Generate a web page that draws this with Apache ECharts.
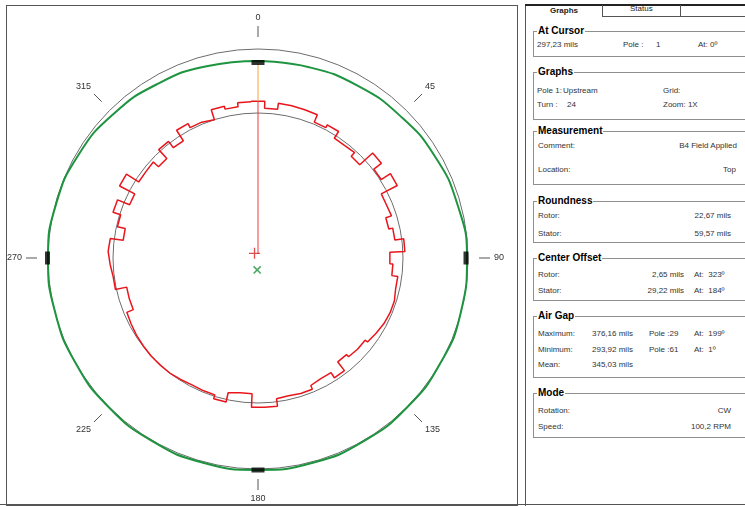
<!DOCTYPE html>
<html>
<head>
<meta charset="utf-8">
<script src="https://cdn.jsdelivr.net/npm/echarts@6/dist/echarts.min.js"></script>
<style>
  body { margin: 0; background: #fff; font-family: "Liberation Sans", Arial, sans-serif; }
  #wrap { position: relative; width: 745px; height: 506px; overflow: hidden; background: #fff; }
  #chart { position: absolute; left: 0; top: 0; width: 520px; height: 506px; }
  .frame { position: absolute; border: 1px solid #555; }
  .ln { position: absolute; background: #555; }
  .grp { position: absolute; left: 533px; width: 240px; border: 1px solid #8f8f8f; border-right: none; }
  .grp .t { position: absolute; left: 3px; top: -7px; background: #fff; padding: 0 1px;
            font-weight: bold; font-size: 10px; line-height: 12px; color: #000; }
  .tx { position: absolute; font-size: 8px; line-height: 10px; color: #333; white-space: nowrap; }
  .tab { position: absolute; font-size: 8px; line-height: 10px; color: #222; white-space: nowrap; }
</style>
</head>
<body>
<div id="wrap">
  <div class="frame" style="left:6px;top:5px;width:510px;height:499px;"></div>
  <div class="ln" style="left:525px;top:5px;width:1px;height:501px;"></div>
  <div class="ln" style="left:0;top:504px;width:745px;height:1px;"></div>
  <div id="chart"></div>

  <!-- tabs -->
  <div class="ln" style="left:525px;top:4px;width:220px;height:2px;background:#222;"></div>
  <div class="ln" style="left:602px;top:5px;width:1px;height:11px;"></div>
  <div class="ln" style="left:680px;top:5px;width:1px;height:11px;"></div>
  <div class="ln" style="left:602px;top:16px;width:143px;height:1px;"></div>
  <div class="tab" style="left:550px;top:6px;font-weight:bold;">Graphs</div>
  <div class="tab" style="left:630px;top:4px;">Status</div>

  <div class="grp" style="top:31px;height:24px;"><span class="t">At Cursor</span></div>
  <div class="tx" style="left:537px;top:40px;">297,23 mils</div>
  <div class="tx" style="left:623px;top:40px;">Pole :</div>
  <div class="tx" style="left:656px;top:40px;">1</div>
  <div class="tx" style="left:698px;top:40px;">At: 0º</div>

  <div class="grp" style="top:72px;height:46px;"><span class="t">Graphs</span></div>
  <div class="tx" style="left:537px;top:86px;">Pole 1:</div>
  <div class="tx" style="left:563px;top:86px;">Upstream</div>
  <div class="tx" style="left:663px;top:86px;">Grid:</div>
  <div class="tx" style="left:537px;top:100px;">Turn :</div>
  <div class="tx" style="left:567px;top:100px;">24</div>
  <div class="tx" style="left:663px;top:100px;">Zoom: 1X</div>

  <div class="grp" style="top:131px;height:52px;"><span class="t">Measurement</span></div>
  <div class="tx" style="left:538px;top:141px;">Comment:</div>
  <div class="tx" style="right:8px;top:141px;">B4 Field Applied</div>
  <div class="tx" style="left:538px;top:165px;">Location:</div>
  <div class="tx" style="right:9px;top:165px;">Top</div>

  <div class="grp" style="top:201px;height:40px;"><span class="t">Roundness</span></div>
  <div class="tx" style="left:538px;top:211px;">Rotor:</div>
  <div class="tx" style="right:14px;top:211px;">22,67 mils</div>
  <div class="tx" style="left:538px;top:229px;">Stator:</div>
  <div class="tx" style="right:14px;top:229px;">59,57 mils</div>

  <div class="grp" style="top:258px;height:41px;"><span class="t">Center Offset</span></div>
  <div class="tx" style="left:538px;top:270px;">Rotor:</div>
  <div class="tx" style="right:61px;top:270px;">2,65 mils</div>
  <div class="tx" style="left:694px;top:270px;">At:&nbsp; 323º</div>
  <div class="tx" style="left:538px;top:286px;">Stator:</div>
  <div class="tx" style="right:61px;top:286px;">29,22 mils</div>
  <div class="tx" style="left:694px;top:286px;">At:&nbsp; 184º</div>

  <div class="grp" style="top:316px;height:60px;"><span class="t">Air Gap</span></div>
  <div class="tx" style="left:538px;top:329px;">Maximum:</div>
  <div class="tx" style="left:592px;top:329px;">376,16 mils</div>
  <div class="tx" style="left:649px;top:329px;">Pole :29</div>
  <div class="tx" style="left:694px;top:329px;">At:&nbsp; 199º</div>
  <div class="tx" style="left:538px;top:345px;">Minimum:</div>
  <div class="tx" style="left:592px;top:345px;">293,92 mils</div>
  <div class="tx" style="left:649px;top:345px;">Pole :61</div>
  <div class="tx" style="left:694px;top:345px;">At:&nbsp; 1º</div>
  <div class="tx" style="left:538px;top:360px;">Mean:</div>
  <div class="tx" style="left:592px;top:360px;">345,03 mils</div>

  <div class="grp" style="top:393px;height:43px;"><span class="t">Mode</span></div>
  <div class="tx" style="left:538px;top:406px;">Rotation:</div>
  <div class="tx" style="right:14px;top:406px;">CW</div>
  <div class="tx" style="left:538px;top:422px;">Speed:</div>
  <div class="tx" style="right:14px;top:422px;">100,2 RPM</div>
</div>

<script>
// rotor profile: one radius per pole (display units), pole 1 at 0°, going clockwise
const polePitch = 5;
const rotorRadii = [
  157, 150, 156, 155.5, 155, 147, 150, 142, 143, 138, 155.5, 146,
  157, 139, 140, 134, 138, 147, 132, 135, 141, 143, 143, 142,
  140, 138, 135, 134, 131, 142, 136, 138, 142, 141, 142, 149.5,
  149.5, 136, 138, 147.5, 143.5, 143, 144, 145, 145, 145, 144.5, 144,
  143, 142, 135, 134.5, 146, 148, 150, 149, 136, 144, 152, 139,
  156, 141.5, 142, 135, 147, 139, 151.5, 147, 145, 155.5, 152.5, 156.5
];

// stator profile read every 15°
const statorAngles = [0, 15, 30, 45, 60, 75, 90, 105, 120, 135, 150, 165,
  180, 195, 210, 225, 240, 255, 270, 285, 300, 315, 330, 345, 360];
const statorRadii = [197, 197.5, 199, 201, 204, 206.5, 209, 210, 210.5, 211, 211.5, 212,
  212, 212, 211.5, 211, 210.5, 210, 210, 209, 207, 204, 201, 198.5, 197];

// reference markers on the stator at 0/90/180/270
const markerAngles = [0, 90, 180, 270];
const markerRadii = [195.5, 208, 212, 210.5];

// centres: [radius, angle]
const rotorCenter = [5.8, 323];
const statorCenter = [12, 184];

// cursor at pole 1
const cursorAngle = 0;
const cursorStart = 4;
const cursorStator = 195.5;

const rotorData = [];
rotorRadii.forEach((r, i) => {
  const c = i * polePitch;
  rotorData.push([r, c - polePitch / 2]);
  rotorData.push([r, c + polePitch / 2]);
});
rotorData.push([rotorRadii[0], 360 - polePitch / 2]);

const statorData = statorAngles.map((a, i) => [statorRadii[i], a]);
const markerData = markerAngles.map((a, i) => ({
  value: [markerRadii[i], a],
  symbolRotate: a % 180 === 0 ? 0 : 90
}));

const font = '"Liberation Sans", Arial, sans-serif';

function ring(idx) {
  return {
    polarIndex: idx, type: 'value', min: 0, max: 360, startAngle: 90,
    axisLine: { show: true, lineStyle: { color: '#6c6c6c', width: 1 } },
    axisTick: { show: false }, axisLabel: { show: false }, splitLine: { show: false }
  };
}

const chart = echarts.init(document.getElementById('chart'));
chart.setOption({
  animation: false,
  polar: [
    { center: [258, 258], radius: 221 },
    { center: [258, 259], radius: 210 },
    { center: [258, 258], radius: 145 }
  ],
  angleAxis: [
    {
      polarIndex: 0, type: 'value', min: 0, max: 360, interval: 45,
      startAngle: 90, clockwise: true,
      axisLine: { show: false }, splitLine: { show: false },
      axisTick: { show: true, length: 11, lineStyle: { color: '#555', width: 1 } },
      axisLabel: { margin: 15, color: '#333', fontSize: 9, fontFamily: font }
    },
    ring(1),
    ring(2)
  ],
  radiusAxis: [
    { polarIndex: 0, min: 0, max: 221, show: false },
    { polarIndex: 1, min: 0, max: 210, show: false },
    { polarIndex: 2, min: 0, max: 145, show: false }
  ],
  series: [
    {
      name: 'Stator', type: 'line', coordinateSystem: 'polar', polarIndex: 0,
      data: statorData, smooth: true, showSymbol: false, z: 3,
      lineStyle: { color: '#1f9440', width: 2 }
    },
    {
      name: 'Rotor', type: 'line', coordinateSystem: 'polar', polarIndex: 0,
      data: rotorData, showSymbol: false, z: 4,
      lineStyle: { color: '#e8161c', width: 1.5 }
    },
    {
      name: 'Cursor', type: 'line', coordinateSystem: 'polar', polarIndex: 0,
      data: [[cursorStart, cursorAngle], [rotorRadii[0], cursorAngle]],
      showSymbol: false, z: 4, lineStyle: { color: '#ec3b3b', width: 1 }
    },
    {
      name: 'Gap', type: 'line', coordinateSystem: 'polar', polarIndex: 0,
      data: [[rotorRadii[0], cursorAngle], [cursorStator, cursorAngle]],
      showSymbol: false, z: 4, lineStyle: { color: '#f5a836', width: 1 }
    },
    {
      name: 'Markers', type: 'scatter', coordinateSystem: 'polar', polarIndex: 0,
      data: markerData, symbol: 'rect', symbolSize: [13, 5], z: 5,
      itemStyle: { color: '#000' }
    },
    {
      name: 'Rotor centre', type: 'scatter', coordinateSystem: 'polar', polarIndex: 0,
      data: [rotorCenter], symbol: 'path://M4.4,0h1.2v10h-1.2zM0,4.4h10v1.2h-10z',
      symbolSize: 11, z: 6, itemStyle: { color: '#d42020' }
    },
    {
      name: 'Stator centre', type: 'scatter', coordinateSystem: 'polar', polarIndex: 0,
      data: [statorCenter], symbol: 'path://M4.2,0h1.6v10h-1.6zM0,4.2h10v1.6h-10z',
      symbolSize: 10, symbolRotate: 45, z: 6, itemStyle: { color: '#1f9440' }
    }
  ]
});
</script>
</body>
</html>
